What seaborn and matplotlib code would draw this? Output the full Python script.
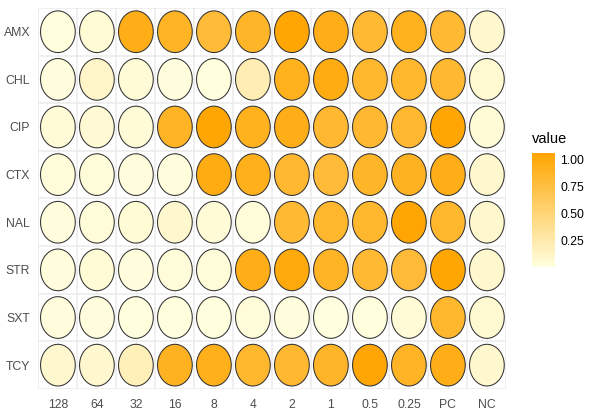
import numpy as np
import pandas as pd
import seaborn as sns
import matplotlib.pyplot as plt
from matplotlib.colors import LinearSegmentedColormap, Normalize
from matplotlib.cm import ScalarMappable
from matplotlib.path import Path

sns.set_style('white')
plt.rcParams['font.family'] = ['Liberation Sans', 'DejaVu Sans']

# concentrations (columns) and drugs (rows)
concs = ['128', '64', '32', '16', '8', '4', '2', '1', '0.5', '0.25', 'PC', 'NC']
drugs = ['AMX', 'CHL', 'CIP', 'CTX', 'NAL', 'STR', 'SXT', 'TCY']

AMX = [0.02, 0.06, 0.95, 0.88, 0.80, 0.87, 1.05, 0.95, 0.82, 0.92, 0.82, 0.10]
CHL = [0.03, 0.12, 0.05, 0.03, 0.02, 0.22, 0.92, 0.97, 0.85, 0.85, 0.83, 0.08]
CIP = [0.05, 0.07, 0.05, 0.88, 1.05, 0.92, 0.95, 0.83, 0.83, 0.83, 1.05, 0.05]
CTX = [0.04, 0.04, 0.03, 0.03, 0.97, 0.93, 0.83, 0.80, 0.87, 0.90, 0.95, 0.10]
NAL = [0.03, 0.04, 0.06, 0.10, 0.05, 0.04, 0.82, 0.85, 0.85, 1.05, 0.85, 0.10]
STR = [0.03, 0.06, 0.03, 0.04, 0.04, 0.95, 1.00, 0.88, 0.82, 0.80, 1.05, 0.10]
SXT = [0.03, 0.03, 0.02, 0.02, 0.02, 0.04, 0.03, 0.01, 0.02, 0.05, 0.85, 0.08]
TCY = [0.10, 0.10, 0.20, 0.90, 0.93, 0.85, 0.83, 0.87, 1.04, 0.88, 0.95, 0.10]

rows = {'AMX': AMX, 'CHL': CHL, 'CIP': CIP, 'CTX': CTX,
        'NAL': NAL, 'STR': STR, 'SXT': SXT, 'TCY': TCY}

df = pd.DataFrame([(d, c, v) for d in drugs for c, v in zip(concs, rows[d])],
                  columns=['drug', 'conc', 'value'])

cmap = LinearSegmentedColormap.from_list('ly_or', ['#FFFFE0', '#FFA500'])
norm = Normalize(vmin=0.007, vmax=1.06)

# ellipse shaped marker (cells are taller than wide)
t = np.linspace(0, 2 * np.pi, 100)
ell = Path(np.column_stack([0.833 * np.cos(t), np.sin(t)]), closed=True)

fig = plt.figure(figsize=(6, 4.16), dpi=100)
ax = fig.add_axes([0.064, 0.065, 0.78, 0.916])

# grid: lines between cells and through cell centres
for k in range(len(concs) + 1):
    ax.axvline(k - 0.5, color='#EBEBEB', lw=1.1, zorder=0)
for k in range(len(drugs) + 1):
    ax.axhline(k - 0.5, color='#EBEBEB', lw=1.1, zorder=0)
for k in range(len(concs)):
    ax.axvline(k, color='#EBEBEB', lw=0.6, zorder=0)
for k in range(len(drugs)):
    ax.axhline(k, color='#EBEBEB', lw=0.6, zorder=0)

sns.scatterplot(data=df, x='conc', y='drug', hue='value', palette=cmap,
                hue_norm=norm, marker=ell, s=900, edgecolor='#333333',
                linewidth=0.75, legend=False, ax=ax, zorder=3)

ax.set_xlim(-0.5, len(concs) - 0.5)
ax.set_ylim(len(drugs) - 0.5, -0.5)
ax.set_xlabel('')
ax.set_ylabel('')
for s in ax.spines.values():
    s.set_visible(False)
ax.tick_params(length=0, labelsize=8.8, labelcolor='#4D4D4D', pad=7)
ax.tick_params(axis='y', pad=6)

# colour bar
cax = fig.add_axes([0.887, 0.358, 0.038, 0.275])
cb = fig.colorbar(ScalarMappable(norm=norm, cmap=cmap), cax=cax)
cb.outline.set_visible(False)
cb.set_ticks([0.25, 0.5, 0.75, 1.0])
cb.set_ticklabels(['0.25', '0.50', '0.75', '1.00'])
cax.tick_params(left=True, right=True, direction='in', length=4.5,
                color='white', width=0.8, labelsize=8.8, labelcolor='black', pad=4)
fig.text(0.887, 0.65, 'value', fontsize=10.5, color='black', ha='left', va='bottom')

fig.savefig('out.png', dpi=100)
